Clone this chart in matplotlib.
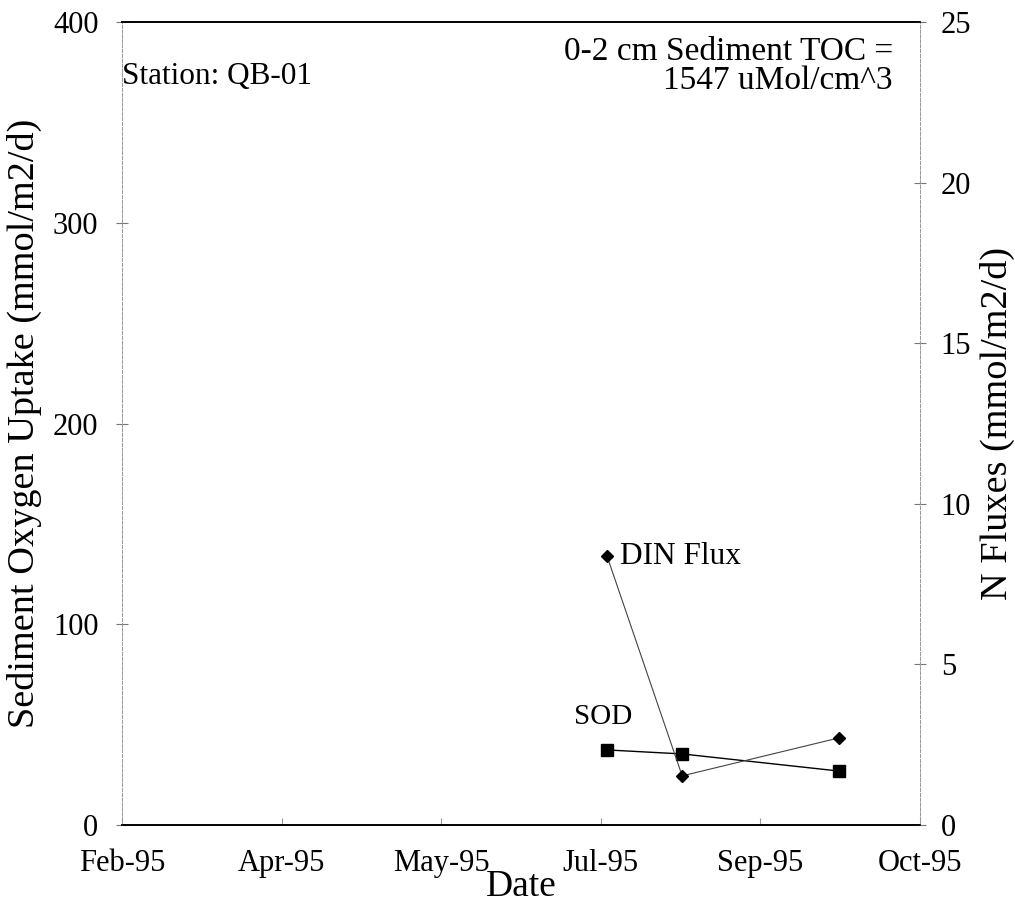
import matplotlib
matplotlib.use("Agg")
import matplotlib.pyplot as plt
import matplotlib.dates as mdates
import datetime as dt
import numpy as np

plt.rcParams['font.family'] = ['Liberation Serif', 'DejaVu Serif']

# Data
sample_dates = [dt.date(1995, 7, 14), dt.date(1995, 8, 7), dt.date(1995, 9, 26)]
sod_values = [37.4, 35.4, 26.9]          # mmol/m2/d (left axis)
din_values = [8.37, 1.53, 2.71]          # mmol/m2/d (right axis)
tick_start = dt.date(1995, 2, 9)
tick_step_days = 51
n_ticks = 6

tick_dates = [tick_start + dt.timedelta(days=tick_step_days * i) for i in range(n_ticks)]

fig = plt.figure(figsize=(10.15, 9.09), dpi=100)
ax = fig.add_axes([0.1202, 0.0924, 0.7862, 0.8834])
ax2 = ax.twinx()

x = mdates.date2num(sample_dates)
xt = mdates.date2num(tick_dates)

ax.plot(x, sod_values, color='black', lw=1.0, marker='s', ms=8, mfc='black', mec='black', zorder=3)
ax2.plot(x, din_values, color='#444444', lw=0.8, marker='D', ms=6.5, mfc='black', mec='black', zorder=3)

ax.set_xlim(xt[0], xt[-1])
ax.set_ylim(0, 400)
ax2.set_ylim(0, 25)
ax.set_xticks(xt)
ax.xaxis.set_major_formatter(mdates.DateFormatter('%b-%y'))
ax.set_yticks(np.arange(0, 401, 100))
ax2.set_yticks(np.arange(0, 26, 5))

for a in (ax, ax2):
    a.spines['top'].set_color('black')
    a.spines['bottom'].set_color('black')
    a.spines['top'].set_linewidth(1.2)
    a.spines['bottom'].set_linewidth(1.2)
    a.spines['left'].set_color('#999999')
    a.spines['right'].set_color('#999999')
    a.spines['left'].set_linestyle((0, (3, 2)))
    a.spines['right'].set_linestyle((0, (3, 2)))
    a.spines['left'].set_linewidth(0.7)
    a.spines['right'].set_linewidth(0.7)

fs = 22
ax.tick_params(axis='y', direction='inout', length=8, width=0.8, color='#777777', labelsize=fs, pad=13)
ax2.tick_params(axis='y', direction='inout', length=8, width=0.8, color='#777777', labelsize=fs, pad=11)
ax.tick_params(axis='x', direction='in', length=5, width=0.8, color='#999999', labelsize=fs, pad=17)

ax.set_xlabel('Date', fontsize=27, labelpad=-6)
ax.set_ylabel('Sediment Oxygen Uptake (mmol/m2/d)', fontsize=27.5, labelpad=8)
ax2.set_ylabel('N Fluxes (mmol/m2/d)', fontsize=27.5, labelpad=6)

ax.text(0.0, 0.932, 'Station: QB-01', transform=ax.transAxes, fontsize=22.5, ha='left', va='center')
ax.text(0.966, 0.982, '0-2 cm Sediment TOC =\n1547 uMol/cm^3', transform=ax.transAxes,
        fontsize=24, ha='right', va='top', multialignment='right', linespacing=0.92)

ax2.annotate('DIN Flux', xy=(x[0], din_values[0]), xytext=(9, 0), textcoords='offset points',
             fontsize=22.5, ha='left', va='center')
ax.annotate('SOD', xy=(x[0], sod_values[0]), xytext=(-3, 14), textcoords='offset points',
            fontsize=21, ha='center', va='bottom')

fig.savefig('out.png', dpi=100)
